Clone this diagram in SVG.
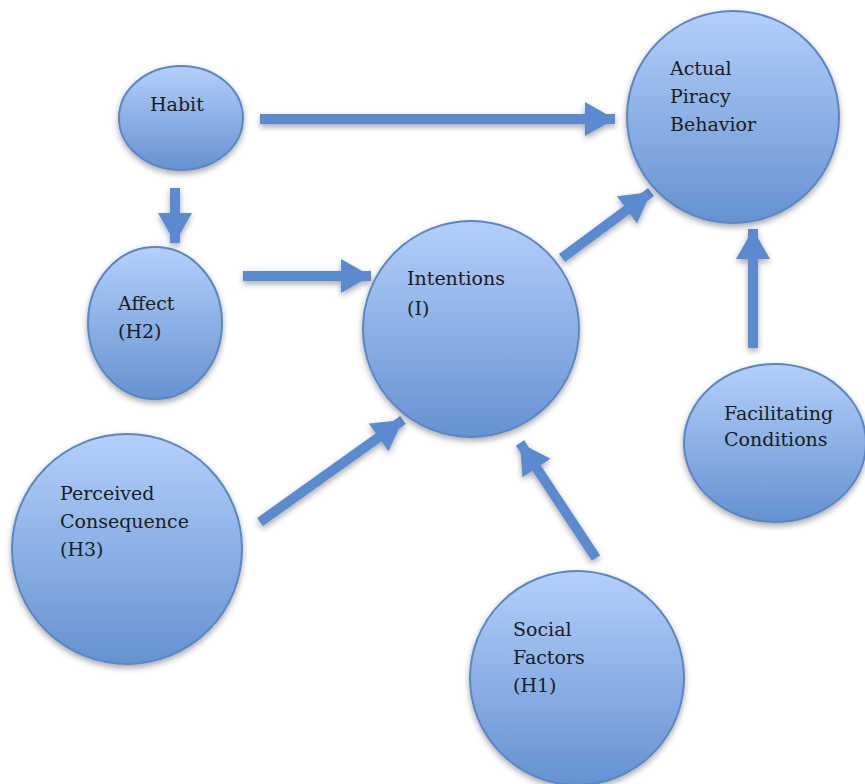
<svg xmlns="http://www.w3.org/2000/svg" width="865" height="784" viewBox="0 0 865 784">
<defs>
<linearGradient id="g" x1="0" y1="0" x2="0" y2="1">
<stop offset="0" stop-color="#b3d0fa"/>
<stop offset="1" stop-color="#6592d2"/>
</linearGradient>
<filter id="sh" filterUnits="userSpaceOnUse" x="0" y="0" width="865" height="784">
<feGaussianBlur in="SourceAlpha" stdDeviation="3"/>
<feOffset dy="3" result="b"/>
<feComponentTransfer><feFuncA type="linear" slope="0.35"/></feComponentTransfer>
<feMerge><feMergeNode/><feMergeNode in="SourceGraphic"/></feMerge>
</filter>
<marker id="ah" markerUnits="userSpaceOnUse" markerWidth="32" markerHeight="34" refX="30" refY="17" orient="auto">
<path d="M0,0 L30,17 L0,34 Z" fill="#5b8ad0"/>
</marker>
</defs>
<style>
.n{fill:url(#g);stroke:#5a86c2;stroke-width:2;filter:url(#sh)}
.t{font-family:"DejaVu Serif","Liberation Serif",serif;font-size:19px;fill:#1c1c1c}
.c line{stroke:#5b8ad0;stroke-width:10;marker-end:url(#ah)}
</style>
<g class="c" id="connectors" filter="url(#sh)">
<line x1="260" y1="119" x2="615" y2="119"/>
<line x1="175" y1="188" x2="175" y2="243"/>
<line x1="243" y1="276" x2="371" y2="276"/>
<line x1="562" y1="258" x2="651" y2="192"/>
<line x1="260" y1="522" x2="403" y2="420"/>
<line x1="596" y1="558" x2="520" y2="443"/>
<line x1="753" y1="348" x2="753" y2="229"/>
</g>
<g id="habit"><ellipse class="n" cx="181" cy="118" rx="62" ry="52"/><text class="t" x="150" y="111">Habit</text></g>
<g id="actual"><circle class="n" cx="733" cy="117" r="106"/><text class="t" x="670" y="75">Actual</text><text class="t" x="670" y="103">Piracy</text><text class="t" x="670" y="131">Behavior</text></g>
<g id="affect"><ellipse class="n" cx="155" cy="323" rx="67" ry="76"/><text class="t" x="118" y="310">Affect</text><text class="t" x="118" y="338">(H2)</text></g>
<g id="intentions"><circle class="n" cx="471" cy="329" r="108"/><text class="t" x="407" y="285">Intentions</text><text class="t" x="407" y="315">(I)</text></g>
<g id="facilitating"><ellipse class="n" cx="775" cy="443" rx="91" ry="79"/><text class="t" x="724" y="420">Facilitating</text><text class="t" x="724" y="446">Conditions</text></g>
<g id="perceived"><circle class="n" cx="127" cy="549" r="115"/><text class="t" x="60" y="500">Perceived</text><text class="t" x="60" y="528">Consequence</text><text class="t" x="60" y="556">(H3)</text></g>
<g id="social"><circle class="n" cx="577" cy="678" r="107"/><text class="t" x="513" y="636">Social</text><text class="t" x="513" y="664">Factors</text><text class="t" x="513" y="692">(H1)</text></g>
</svg>
